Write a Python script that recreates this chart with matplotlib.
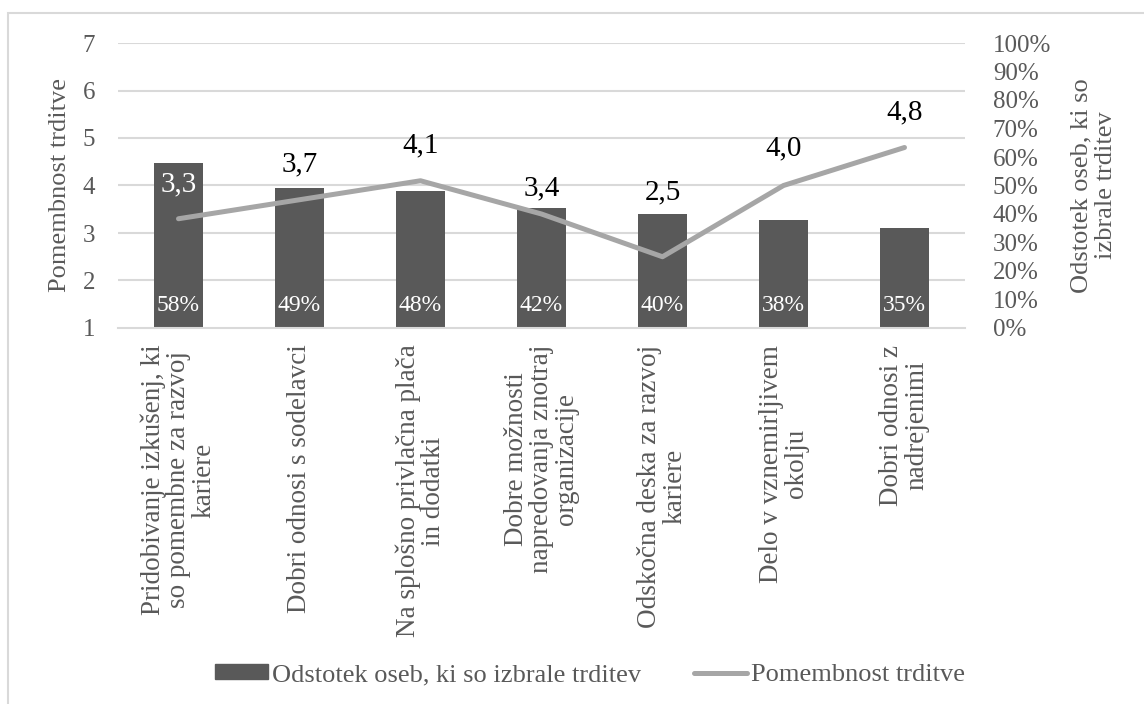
import matplotlib
matplotlib.use("Agg")
import matplotlib.pyplot as plt
from matplotlib.patches import Rectangle, Patch
from matplotlib.lines import Line2D

plt.rcParams['font.family'] = ['Liberation Serif', 'DejaVu Serif']

# data
categories = [
    "Pridobivanje izkušenj, ki\nso pomembne za razvoj\nkariere",
    "Dobri odnosi s sodelavci",
    "Na splošno privlačna plača\nin dodatki",
    "Dobre možnosti\nnapredovanja znotraj\norganizacije",
    "Odskočna deska za razvoj\nkariere",
    "Delo v vznemirljivem\nokolju",
    "Dobri odnosi z\nnadrejenimi",
]
share_pct = [58, 49, 48, 42, 40, 38, 35]          # Odstotek oseb, ki so izbrale trditev
importance = [3.3, 3.7, 4.1, 3.4, 2.5, 4.0, 4.8]  # Pomembnost trditve

bar_name = "Odstotek oseb, ki so izbrale trditev"
line_name = "Pomembnost trditve"

# label lift above the line point (in importance units)
label_lift = [0.73, 0.75, 0.75, 0.55, 1.36, 0.79, 0.73]

BAR = "#595959"
LINE = "#a6a6a6"
GRID = "#d9d9d9"
TXT = "#595959"

fig = plt.figure(figsize=(11.44, 7.04), dpi=100)
fig.patches.append(Rectangle((8 / 1144, -0.05), 1.1, 1.05 - 13 / 704,
                             transform=fig.transFigure, fill=False,
                             edgecolor=GRID, lw=1.5))

ax = fig.add_axes([118 / 1144, 1 - 328 / 704, (965 - 118) / 1144, (328 - 43) / 704])
ax2 = ax.twinx()

x = list(range(len(categories)))

# bars on the percentage scale (drawn first, below the line)
ax.set_ylim(0, 100)
ax.set_xlim(-0.5, len(categories) - 0.5)
for i in range(1, 7):
    ax.axhline(100 * i / 6, color=GRID, lw=1.5, zorder=0)
ax.bar(x, share_pct, width=0.4, color=BAR, zorder=2)
for xi, v in zip(x, share_pct):
    ax.text(xi, 8, f"{v}%", color="white", ha="center", va="center",
            fontsize=17, zorder=3)

ax.yaxis.tick_right()
ax.yaxis.set_label_position("right")
ax.set_yticks(range(0, 101, 10))
ax.set_yticklabels([f"{t}%" for t in range(0, 101, 10)])
ax.tick_params(axis="y", length=0, labelsize=18, labelcolor=TXT, pad=20)
for lab in ax.get_yticklabels():
    lab.set_horizontalalignment("left")
ax.set_ylabel("Odstotek oseb, ki so\nizbrale trditev", fontsize=19, color=TXT,
              labelpad=14, linespacing=1.15)

ax.set_xticks(x)
ax.set_xticklabels(categories, rotation=90, fontsize=19.5, color=TXT,
                   multialignment="center", linespacing=1.0)
ax.tick_params(axis="x", length=0, pad=12)

for sp in ["top", "left", "right"]:
    ax.spines[sp].set_visible(False)
ax.spines["bottom"].set_color(GRID)
ax.spines["bottom"].set_linewidth(1.5)

# line on the importance scale
ax2.set_ylim(1, 7)
ax2.plot(x, importance, color=LINE, lw=3.6, solid_capstyle="round", zorder=4)
for xi, v, lift in zip(x, importance, label_lift):
    col = "white" if xi == 0 else "black"
    ax2.text(xi, v + lift, f"{v:.1f}".replace(".", ","), color=col,
             ha="center", va="center", fontsize=21)

ax2.yaxis.tick_left()
ax2.yaxis.set_label_position("left")
ax2.set_yticks(range(1, 8))
ax2.tick_params(axis="y", length=0, labelsize=18, labelcolor=TXT, pad=16.5)
ax2.set_ylabel(line_name, fontsize=19, color=TXT, labelpad=8)
for sp in ax2.spines.values():
    sp.set_visible(False)

handles = [Patch(facecolor=BAR, edgecolor=BAR),
           Line2D([0], [0], color=LINE, lw=3.6, solid_capstyle="round")]
fig.legend(handles, [bar_name, line_name], loc="center",
           bbox_to_anchor=(590 / 1144, 1 - 675 / 704), ncol=2, frameon=False,
           fontsize=19, labelcolor=TXT, handlelength=2.0, handleheight=0.5,
           handletextpad=0.15, columnspacing=2.0)

fig.savefig("out.png", dpi=100)
